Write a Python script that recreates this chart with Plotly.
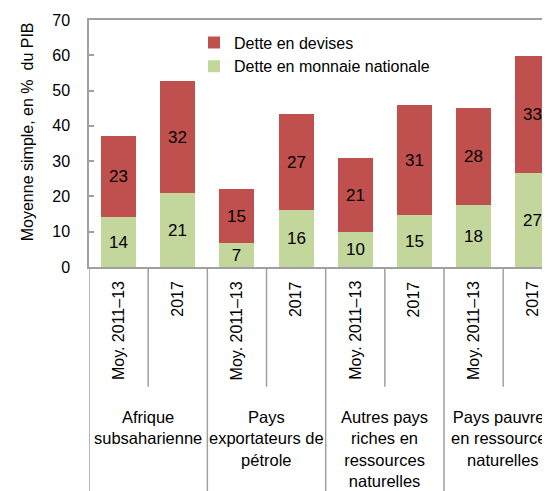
import plotly.graph_objects as go

groups = ["Afrique<br>subsaharienne", "Pays<br>exportateurs de<br>pétrole",
          "Autres pays<br>riches en<br>ressources<br>naturelles",
          "Pays pauvres<br>en ressources<br>naturelles"]
periods = ["Moy. 2011–13", "2017"]
local_debt = [14.1, 21.0, 6.9, 16.1, 10.0, 14.8, 17.7, 26.6]
foreign_debt = [22.9, 31.7, 15.2, 27.3, 20.9, 31.1, 27.5, 33.2]

FONT = "Liberation Sans, Arial, sans-serif"
GREY = "#A0A0A0"
RED = "#C0504D"
GREEN = "#C3D69B"

# page body has an 8px default margin: design in window pixels, shift by OFF
OFF = 8
W, H = 550 - OFF, 491 - OFF
LEFT = 89 - OFF
TOP = 19.5 - OFF
BOTTOM = 267 - OFF
plot_w = W - LEFT
plot_h = BOTTOM - TOP
STEP = 59.17

def py(pix):
    return (BOTTOM - (pix - OFF)) / plot_h

def px(pix):
    return ((pix - OFF) - LEFT) / plot_w

n = len(local_debt)
x = list(range(n))
period_labels = [periods[i % 2] for i in x]

fig = go.Figure()
fig.add_trace(go.Bar(
    x=x, y=local_debt, name="Dette en monnaie nationale",
    marker=dict(color=GREEN, line=dict(width=0)), width=0.59,
    text=[f"{v:.0f}" for v in local_debt], textposition="inside", textangle=0,
    insidetextanchor="middle", textfont=dict(size=17, color="black", family=FONT),
    hoverinfo="skip",
))
fig.add_trace(go.Bar(
    x=x, y=foreign_debt, name="Dette en devises",
    marker=dict(color=RED, line=dict(width=0)), width=0.59,
    text=[f"{v:.0f}" for v in foreign_debt], textposition="inside", textangle=0,
    insidetextanchor="middle", textfont=dict(size=17, color="black", family=FONT),
    hoverinfo="skip",
))

# period labels (rotated)
for i, lab in enumerate(period_labels):
    fig.add_annotation(x=i, y=py(279), xref="x", yref="paper", text=lab,
                       textangle=-90, showarrow=False, xanchor="center", yanchor="top",
                       font=dict(size=16, color="black", family=FONT))
# group labels
for g, lab in enumerate(groups):
    fig.add_annotation(x=2 * g + 0.5, y=py(406), xref="x", yref="paper", text=lab,
                       showarrow=False, xanchor="center", yanchor="top",
                       font=dict(size=16.5, color="black", family=FONT))
# separators
for b in range(n + 1):
    xb = b - 0.5
    y1 = py(495) if b % 2 == 0 else py(387)
    fig.add_shape(type="line", xref="x", yref="paper", x0=xb, x1=xb, y0=0, y1=y1,
                  line=dict(color=GREY, width=1.5), layer="above")

# y-axis title
fig.add_annotation(x=px(27), y=py(132), xref="paper", yref="paper",
                   text="Moyenne simple, en %  du PIB", textangle=-90, showarrow=False,
                   xanchor="center", yanchor="middle",
                   font=dict(size=16, color="black", family=FONT))

fig.update_layout(
    width=W, height=H,
    margin=dict(l=LEFT, r=0, t=TOP, b=H - BOTTOM, autoexpand=False),
    barmode="stack", bargap=0,
    uniformtext=dict(mode="show", minsize=17),
    plot_bgcolor="white", paper_bgcolor="white",
    font=dict(family=FONT, size=16, color="black"),
    showlegend=True,
    legend=dict(x=px(194), y=py(25), xanchor="left", yanchor="top",
                bgcolor="rgba(0,0,0,0)", font=dict(size=16, color="black", family=FONT),
                traceorder="reversed", itemwidth=30, tracegroupgap=0),
    xaxis=dict(range=[-0.5, -0.5 + plot_w / STEP], showticklabels=False, ticks="",
               showgrid=False, zeroline=False, showline=True, linecolor=GREY,
               linewidth=1.5, mirror=True, fixedrange=True, automargin=False),
    yaxis=dict(range=[0, 70], dtick=10, ticks="inside", ticklen=5, tickcolor=GREY,
               tickwidth=1.5, showgrid=False, zeroline=False, showline=True,
               linecolor=GREY, linewidth=1.5, ticklabelstandoff=14, automargin=False,
               tickfont=dict(size=16, color="black", family=FONT), fixedrange=True),
)

fig.write_html("out.html")
